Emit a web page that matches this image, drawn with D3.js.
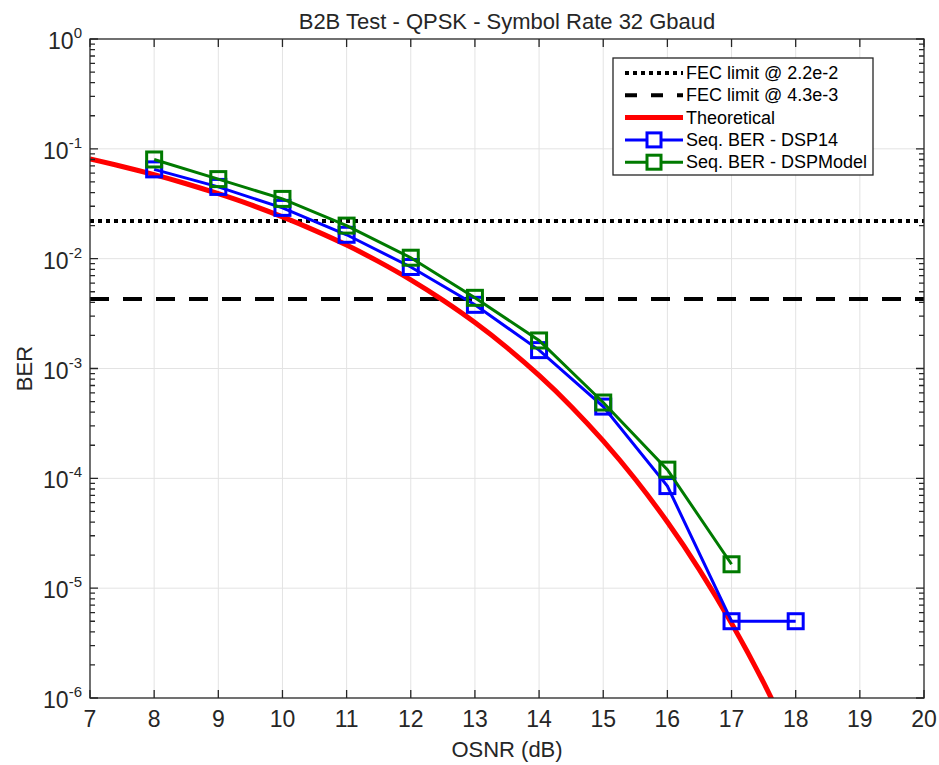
<!DOCTYPE html>
<html>
<head>
<meta charset="utf-8">
<script src="https://cdn.jsdelivr.net/npm/d3@7"></script>
<style>
  body { margin: 0; background: #fff; }
  svg { font-family: "Liberation Sans", Arial, sans-serif; }
</style>
</head>
<body>
<div class="chart-container"></div>
<script>
// data
var osnrTicks = [7, 8, 9, 10, 11, 12, 13, 14, 15, 16, 17, 18, 19, 20];
var berExponents = [0, -1, -2, -3, -4, -5, -6];

var theoryOsnr = [7, 7.5, 8, 8.5, 9, 9.5, 10, 10.5, 11, 11.5, 12, 12.5, 13, 13.5, 14, 14.5, 15, 15.5, 16, 16.5, 17, 17.5, 18];
var theoryBer = [0.0808, 0.0691, 0.0582, 0.0481, 0.0390, 0.0310, 0.0240, 0.0181, 0.0133, 0.00939, 0.00641, 0.00419, 0.00262, 0.00155, 0.000865, 0.000452, 0.000219, 0.000098, 0.000040, 0.0000147, 0.0000048, 0.00000138, 0.00000034];

var dsp14Osnr = [8, 9, 10, 11, 12, 13, 14, 15, 16, 17, 18];
var dsp14Ber = [0.065, 0.045, 0.029, 0.0165, 0.0084, 0.0038, 0.00147, 0.00045, 0.000085, 0.000005, 0.000005];

var modelOsnr = [8, 9, 10, 11, 12, 13, 14, 15, 16, 17];
var modelBer = [0.080, 0.053, 0.035, 0.020, 0.0102, 0.0044, 0.0018, 0.00049, 0.00012, 0.0000165];

var fecLimits = [2.2e-2, 4.3e-3];

var width = 939, height = 765;
var plotLeft = 90, plotRight = 924, plotTop = 39, plotBottom = 698;
var ink = "#262626";

var svg = d3.select(".chart-container")
  .append("svg")
  .attr("width", width)
  .attr("height", height);

var x = d3.scaleLinear().domain([7, 20]).range([plotLeft, plotRight]);
var y = d3.scaleLog().domain([1e-6, 1]).range([plotBottom, plotTop]);

// grid
var grid = svg.append("g").attr("stroke", "#e3e3e3").attr("stroke-width", 1);
grid.selectAll(".gx")
  .data(osnrTicks.slice(1, -1))
  .enter().append("line")
  .attr("x1", function(d) { return x(d); })
  .attr("x2", function(d) { return x(d); })
  .attr("y1", plotTop).attr("y2", plotBottom);
grid.selectAll(".gy")
  .data(berExponents.slice(1, -1))
  .enter().append("line")
  .attr("y1", function(d) { return y(Math.pow(10, d)); })
  .attr("y2", function(d) { return y(Math.pow(10, d)); })
  .attr("x1", plotLeft).attr("x2", plotRight);

svg.append("clipPath").attr("id", "plot-clip")
  .append("rect")
  .attr("x", plotLeft).attr("y", plotTop)
  .attr("width", plotRight - plotLeft).attr("height", plotBottom - plotTop);

var plot = svg.append("g").attr("clip-path", "url(#plot-clip)");

// FEC limits
plot.append("line")
  .attr("x1", plotLeft).attr("x2", plotRight)
  .attr("y1", y(fecLimits[0])).attr("y2", y(fecLimits[0]))
  .attr("stroke", "#000").attr("stroke-width", 4)
  .attr("stroke-dasharray", "4,4");
plot.append("line")
  .attr("x1", plotLeft).attr("x2", plotRight)
  .attr("y1", y(fecLimits[1])).attr("y2", y(fecLimits[1]))
  .attr("stroke", "#000").attr("stroke-width", 4)
  .attr("stroke-dasharray", "19,14");

var line = d3.line()
  .x(function(d) { return x(d[0]); })
  .y(function(d) { return y(d[1]); })
  .curve(d3.curveMonotoneX);

var straight = d3.line()
  .x(function(d) { return x(d[0]); })
  .y(function(d) { return y(d[1]); });

plot.append("path")
  .datum(d3.zip(theoryOsnr, theoryBer))
  .attr("d", line)
  .attr("fill", "none")
  .attr("stroke", "#f00")
  .attr("stroke-width", 5);

function drawSeries(xs, ys, color) {
  var pts = d3.zip(xs, ys);
  plot.append("path")
    .datum(pts)
    .attr("d", straight)
    .attr("fill", "none")
    .attr("stroke", color)
    .attr("stroke-width", 3);
  plot.selectAll(null)
    .data(pts)
    .enter().append("rect")
    .attr("x", function(d) { return x(d[0]) - 7.5; })
    .attr("y", function(d) { return y(d[1]) - 7.5; })
    .attr("width", 15).attr("height", 15)
    .attr("fill", "none")
    .attr("stroke", color)
    .attr("stroke-width", 3);
}

drawSeries(dsp14Osnr, dsp14Ber, "#0000ff");
drawSeries(modelOsnr, modelBer, "#007a00");

// frame and ticks
var axes = svg.append("g").attr("stroke", ink).attr("stroke-width", 1.3);
axes.append("rect")
  .attr("x", plotLeft).attr("y", plotTop)
  .attr("width", plotRight - plotLeft).attr("height", plotBottom - plotTop)
  .attr("fill", "none");

axes.selectAll(".tx")
  .data(osnrTicks)
  .enter().append("path")
  .attr("d", function(d) {
    return "M" + x(d) + "," + plotBottom + "v-8M" + x(d) + "," + plotTop + "v8";
  });

var minors = [];
berExponents.slice(1).forEach(function(e) {
  for (var m = 2; m <= 9; m++) minors.push(m * Math.pow(10, e));
});
axes.selectAll(".ty")
  .data(berExponents.map(function(e) { return Math.pow(10, e); }))
  .enter().append("path")
  .attr("d", function(d) {
    return "M" + plotLeft + "," + y(d) + "h8M" + plotRight + "," + y(d) + "h-8";
  });
axes.selectAll(".tm")
  .data(minors)
  .enter().append("path")
  .attr("d", function(d) {
    return "M" + plotLeft + "," + y(d) + "h5M" + plotRight + "," + y(d) + "h-5";
  });

// tick labels
svg.selectAll(".xl")
  .data(osnrTicks)
  .enter().append("text")
  .attr("x", function(d) { return x(d); })
  .attr("y", 727)
  .attr("text-anchor", "middle")
  .attr("font-size", 23)
  .attr("fill", ink)
  .text(function(d) { return d; });

var yl = svg.selectAll(".yl")
  .data(berExponents)
  .enter().append("text")
  .attr("x", 82)
  .attr("y", function(d) { return y(Math.pow(10, d)) + 10; })
  .attr("text-anchor", "end")
  .attr("font-size", 23)
  .attr("fill", ink);
yl.append("tspan").text("10");
yl.append("tspan")
  .attr("dy", -11)
  .attr("font-size", 15)
  .text(function(d) { return d; });

// titles
svg.append("text")
  .attr("x", (plotLeft + plotRight) / 2).attr("y", 29)
  .attr("text-anchor", "middle")
  .attr("font-size", 22)
  .attr("fill", ink)
  .text("B2B Test - QPSK - Symbol Rate 32 Gbaud");
svg.append("text")
  .attr("x", (plotLeft + plotRight) / 2).attr("y", 757)
  .attr("text-anchor", "middle")
  .attr("font-size", 22)
  .attr("fill", ink)
  .text("OSNR (dB)");
svg.append("text")
  .attr("transform", "translate(32," + ((plotTop + plotBottom) / 2) + ") rotate(-90)")
  .attr("text-anchor", "middle")
  .attr("font-size", 22)
  .attr("fill", ink)
  .text("BER");

// legend
var legendItems = [
  { label: "FEC limit @ 2.2e-2", color: "#000", width: 4, dash: "4,4", marker: false },
  { label: "FEC limit @ 4.3e-3", color: "#000", width: 4, dash: "12,14", marker: false },
  { label: "Theoretical", color: "#f00", width: 5, dash: null, marker: false },
  { label: "Seq. BER - DSP14", color: "#0000ff", width: 3, dash: null, marker: true },
  { label: "Seq. BER - DSPModel", color: "#007a00", width: 3, dash: null, marker: true }
];

var legend = svg.append("g");
legend.append("rect")
  .attr("x", 613).attr("y", 58)
  .attr("width", 260).attr("height", 117)
  .attr("fill", "#fff")
  .attr("stroke", ink).attr("stroke-width", 1.3);

var rows = legend.selectAll(".row")
  .data(legendItems)
  .enter().append("g")
  .attr("transform", function(d, i) { return "translate(0," + (73 + i * 22.3) + ")"; });

rows.append("line")
  .attr("x1", 625).attr("x2", 683)
  .attr("stroke", function(d) { return d.color; })
  .attr("stroke-width", function(d) { return d.width; })
  .attr("stroke-dasharray", function(d) { return d.dash; });
rows.filter(function(d) { return d.marker; })
  .append("rect")
  .attr("x", 647).attr("y", -7)
  .attr("width", 14).attr("height", 14)
  .attr("fill", "#fff")
  .attr("stroke", function(d) { return d.color; })
  .attr("stroke-width", 3);
rows.append("text")
  .attr("x", 686).attr("y", 6)
  .attr("font-size", 18)
  .attr("fill", "#000")
  .text(function(d) { return d.label; });
</script>
</body>
</html>
